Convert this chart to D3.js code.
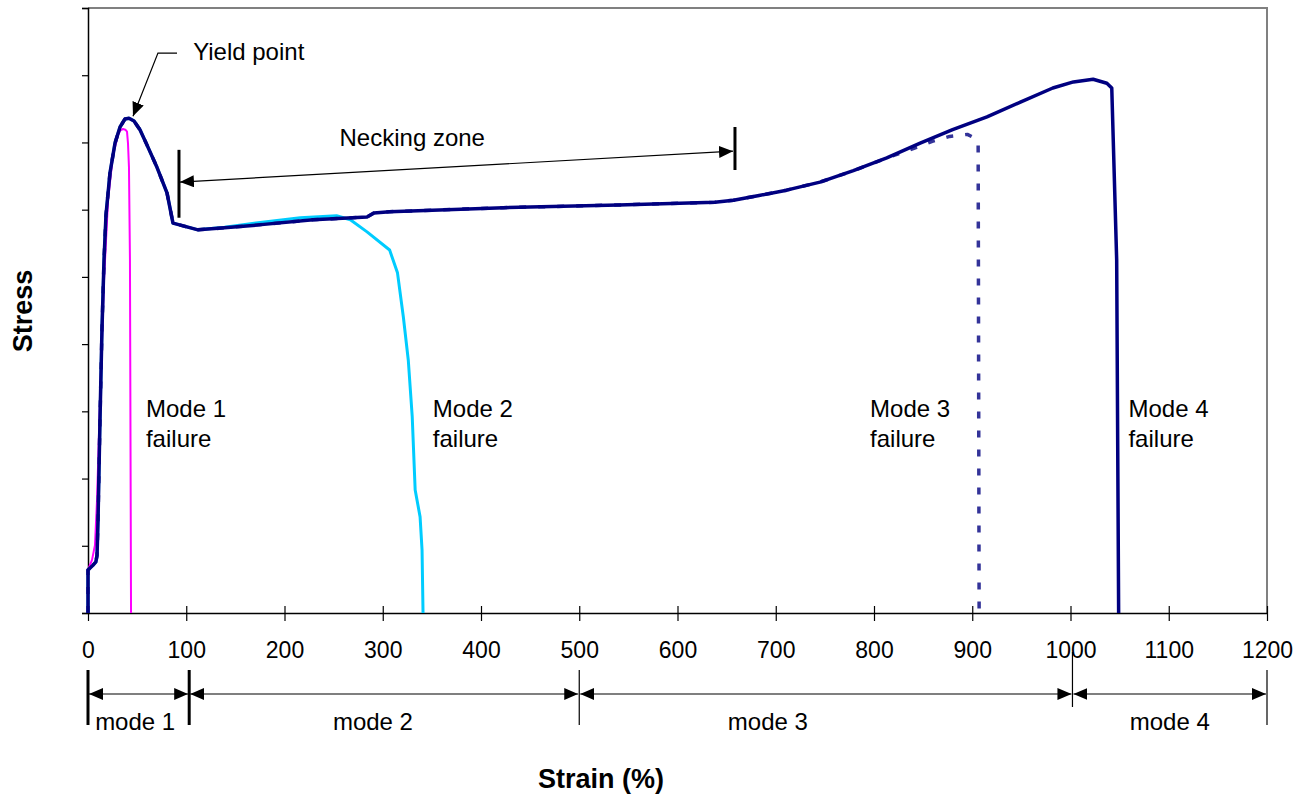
<!DOCTYPE html>
<html>
<head>
<meta charset="utf-8">
<script src="https://cdn.jsdelivr.net/npm/d3@7"></script>
<style>
  body { margin: 0; background: #fff; }
  text { font-family: "Liberation Sans", Arial, sans-serif; fill: #000; }
</style>
</head>
<body>
<svg width="1307" height="801"></svg>
<script>
// strain (%) and stress (arbitrary units, 0..9)
var mode4Strain = [0, 0, 5, 8, 9.2, 10.2, 12.2, 14.2, 16.3, 18.3, 22.4, 27.5, 32.6, 37.7, 41.7, 46.8, 52.9, 60.1, 70.2, 80.4, 86.5,
    112, 139, 171, 229, 284, 291, 307, 423, 540, 638, 657, 683, 711, 745, 779, 813, 847, 880, 915, 949, 982, 1003, 1023, 1037, 1042, 1047, 1049];
var mode4Stress = [0, 0.64, 0.71, 0.76, 0.86, 1.38, 2.87, 4.21, 5.25, 5.92, 6.55, 6.99, 7.23, 7.35, 7.36, 7.32, 7.19, 6.96, 6.63, 6.25, 5.80,
    5.70, 5.73, 5.77, 5.85, 5.89, 5.95, 5.97, 6.03, 6.07, 6.11, 6.14, 6.21, 6.29, 6.41, 6.58, 6.77, 6.99, 7.19, 7.38, 7.60, 7.81, 7.90, 7.94, 7.88, 7.81, 5.25, 0];

var mode3Strain = [0, 0, 5, 8, 9.2, 10.2, 12.2, 14.2, 16.3, 18.3, 22.4, 27.5, 32.6, 37.7, 41.7, 46.8, 52.9, 60.1, 70.2, 80.4, 86.5,
    112, 139, 171, 229, 284, 291, 307, 423, 540, 638, 657, 683, 711, 745, 779, 813, 842, 860, 877, 895, 902, 906, 907];
var mode3Stress = [0, 0.64, 0.71, 0.76, 0.86, 1.38, 2.87, 4.21, 5.25, 5.92, 6.55, 6.99, 7.23, 7.35, 7.36, 7.32, 7.19, 6.96, 6.63, 6.25, 5.80,
    5.70, 5.73, 5.77, 5.85, 5.89, 5.95, 5.97, 6.03, 6.07, 6.11, 6.14, 6.21, 6.29, 6.41, 6.58, 6.77, 6.92, 7.02, 7.09, 7.12, 7.07, 6.99, 0];

var mode2Strain = [0, 0, 5, 8, 9.2, 10.2, 12.2, 14.2, 16.3, 18.3, 22.4, 27.5, 32.6, 37.7, 41.7, 46.8, 52.9, 60.1, 70.2, 80.4, 86.5,
    112, 139, 171, 216, 253, 267, 284, 307, 315, 321, 326, 330, 333, 338, 340, 341];
var mode2Stress = [0, 0.64, 0.71, 0.76, 0.86, 1.38, 2.87, 4.21, 5.25, 5.92, 6.55, 6.99, 7.23, 7.35, 7.36, 7.32, 7.19, 6.96, 6.63, 6.25, 5.80,
    5.70, 5.74, 5.80, 5.88, 5.91, 5.85, 5.67, 5.40, 5.06, 4.40, 3.76, 2.92, 1.83, 1.43, 0.94, 0];

var mode1Strain = [0, 0, 4.1, 7.1, 9.2, 12.2, 16.3, 20.4, 25.4, 30.5, 33, 35.6, 38, 39.7, 40.7, 41.7, 42.7, 43.8];
var mode1Stress = [0, 0.64, 0.79, 1.01, 1.68, 3.17, 4.95, 6.14, 6.81, 7.11, 7.18, 7.20, 7.19, 7.16, 6.99, 6.63, 5.25, 0];

var xTicks = [0, 100, 200, 300, 400, 500, 600, 700, 800, 900, 1000, 1100, 1200];
var yTicks = [0, 1, 2, 3, 4, 5, 6, 7, 8, 9];

var failureLabels = ["Mode 1", "Mode 2", "Mode 3", "Mode 4"];
var failureLabelX = [59, 351, 796, 1059];
var failureLabelY = 2.92;

var modeNames = ["mode 1", "mode 2", "mode 3", "mode 4"];
var modeBounds = [0, 103, 500, 1002, 1200];
var modeLabelX = [48, 290, 692, 1101];

function zip(xs, ys) { return xs.map(function(d, i) { return [d, ys[i]]; }); }

var svg = d3.select("svg"),
    margin = {left: 88, top: 8, right: 40, bottom: 188},
    width = 1307 - margin.left - margin.right,
    height = 801 - margin.top - margin.bottom;

var x = d3.scaleLinear().domain([0, 1200]).range([0, width]);
var y = d3.scaleLinear().domain([0, 9]).range([height, 0]);

var defs = svg.append("defs");
defs.append("marker")
    .attr("id", "head")
    .attr("markerUnits", "userSpaceOnUse")
    .attr("viewBox", "0 0 14 12")
    .attr("refX", 14).attr("refY", 6)
    .attr("markerWidth", 14).attr("markerHeight", 12)
    .attr("orient", "auto-start-reverse")
    .append("path").attr("d", "M0,0L14,6L0,12Z").attr("fill", "#000");

var g = svg.append("g").attr("transform", "translate(" + margin.left + "," + margin.top + ")");

// plot frame (grey top and right)
g.append("path")
    .attr("d", "M0,0H" + width + "V" + height)
    .attr("fill", "none").attr("stroke", "#808080").attr("stroke-width", 2);

// y axis
var yAx = g.append("g").call(d3.axisLeft(y).tickValues(yTicks).tickSize(6).tickFormat(""));
yAx.select(".domain").attr("stroke", "#000").attr("stroke-width", 1.5);
yAx.selectAll(".tick line").attr("stroke", "#000").attr("stroke-width", 1.2);

// x axis
var xAx = g.append("g").attr("transform", "translate(0," + height + ")")
    .call(d3.axisBottom(x).tickValues(xTicks).tickSize(8).tickSizeOuter(0).tickFormat(d3.format("d")));
xAx.select(".domain").attr("stroke", "#000").attr("stroke-width", 1.5);
xAx.selectAll(".tick line").attr("y1", -7).attr("y2", 8).attr("stroke", "#000").attr("stroke-width", 1.2);
xAx.selectAll(".tick text").attr("y", 45).attr("dy", 0)
    .attr("font-size", 23).attr("font-family", "Liberation Sans, Arial, sans-serif").attr("fill", "#000");

var line = d3.line().x(function(d) { return x(d[0]); }).y(function(d) { return y(d[1]); });

g.append("path").datum(zip(mode2Strain, mode2Stress))
    .attr("d", line).attr("fill", "none").attr("stroke", "#00ccff").attr("stroke-width", 3).attr("stroke-linejoin", "round");
g.append("path").datum(zip(mode1Strain, mode1Stress))
    .attr("d", line).attr("fill", "none").attr("stroke", "#ff00ff").attr("stroke-width", 2).attr("stroke-linejoin", "round");
g.append("path").datum(zip(mode3Strain, mode3Stress))
    .attr("d", line).attr("fill", "none").attr("stroke", "#333399").attr("stroke-width", 3.5)
    .attr("stroke-dasharray", "7,12").attr("stroke-linejoin", "round");
g.append("path").datum(zip(mode4Strain, mode4Stress))
    .attr("d", line).attr("fill", "none").attr("stroke", "#000080").attr("stroke-width", 3.5).attr("stroke-linejoin", "round");

// failure labels
failureLabels.forEach(function(t, i) {
    var tx = g.append("text").attr("x", x(failureLabelX[i])).attr("y", y(failureLabelY)).attr("font-size", 24);
    tx.append("tspan").attr("x", x(failureLabelX[i])).text(t);
    tx.append("tspan").attr("x", x(failureLabelX[i])).attr("dy", 30).text("failure");
});

// yield point
g.append("text").attr("x", x(107)).attr("y", y(8.23)).attr("font-size", 24).text("Yield point");
g.append("path")
    .attr("d", "M" + x(90.6) + "," + y(8.33) + "H" + x(71.2) + "L" + x(45.8) + "," + y(7.39))
    .attr("fill", "none").attr("stroke", "#000").attr("stroke-width", 1.2).attr("marker-end", "url(#head)");

// necking zone
g.append("text").attr("x", x(256)).attr("y", y(6.95)).attr("font-size", 24).text("Necking zone");
g.append("line")
    .attr("x1", x(93.6)).attr("y1", y(6.41)).attr("x2", x(656.5)).attr("y2", y(6.87))
    .attr("stroke", "#000").attr("stroke-width", 1.2)
    .attr("marker-start", "url(#head)").attr("marker-end", "url(#head)");
g.append("line").attr("x1", x(92.6)).attr("x2", x(92.6)).attr("y1", y(5.88)).attr("y2", y(6.89))
    .attr("stroke", "#000").attr("stroke-width", 3);
g.append("line").attr("x1", x(658.5)).attr("x2", x(658.5)).attr("y1", y(6.59)).attr("y2", y(7.23))
    .attr("stroke", "#000").attr("stroke-width", 3);

// deformation modes under the axis
var arrowY = height + 81;
modeNames.forEach(function(t, i) {
    g.append("line")
        .attr("x1", x(modeBounds[i]) + 1).attr("x2", x(modeBounds[i + 1]) - 1)
        .attr("y1", arrowY).attr("y2", arrowY)
        .attr("stroke", "#000").attr("stroke-width", 1.2)
        .attr("marker-start", "url(#head)").attr("marker-end", "url(#head)");
    g.append("text").attr("x", x(modeLabelX[i])).attr("y", height + 117)
        .attr("text-anchor", "middle").attr("font-size", 24).text(t);
});
modeBounds.forEach(function(b, i) {
    var thick = i < 2;
    var top = i === 3 ? height + 39 : height + 57;
    g.append("line").attr("x1", x(b)).attr("x2", x(b))
        .attr("y1", top).attr("y2", top + 55)
        .attr("stroke", "#000").attr("stroke-width", thick ? 3 : 1.2);
});

// axis titles
svg.append("text").attr("x", 601).attr("y", 788).attr("text-anchor", "middle")
    .attr("font-size", 27).attr("font-weight", "bold").text("Strain (%)");
svg.append("text").attr("transform", "translate(32,311) rotate(-90)").attr("text-anchor", "middle")
    .attr("font-size", 27).attr("font-weight", "bold").text("Stress");
</script>
</body>
</html>
